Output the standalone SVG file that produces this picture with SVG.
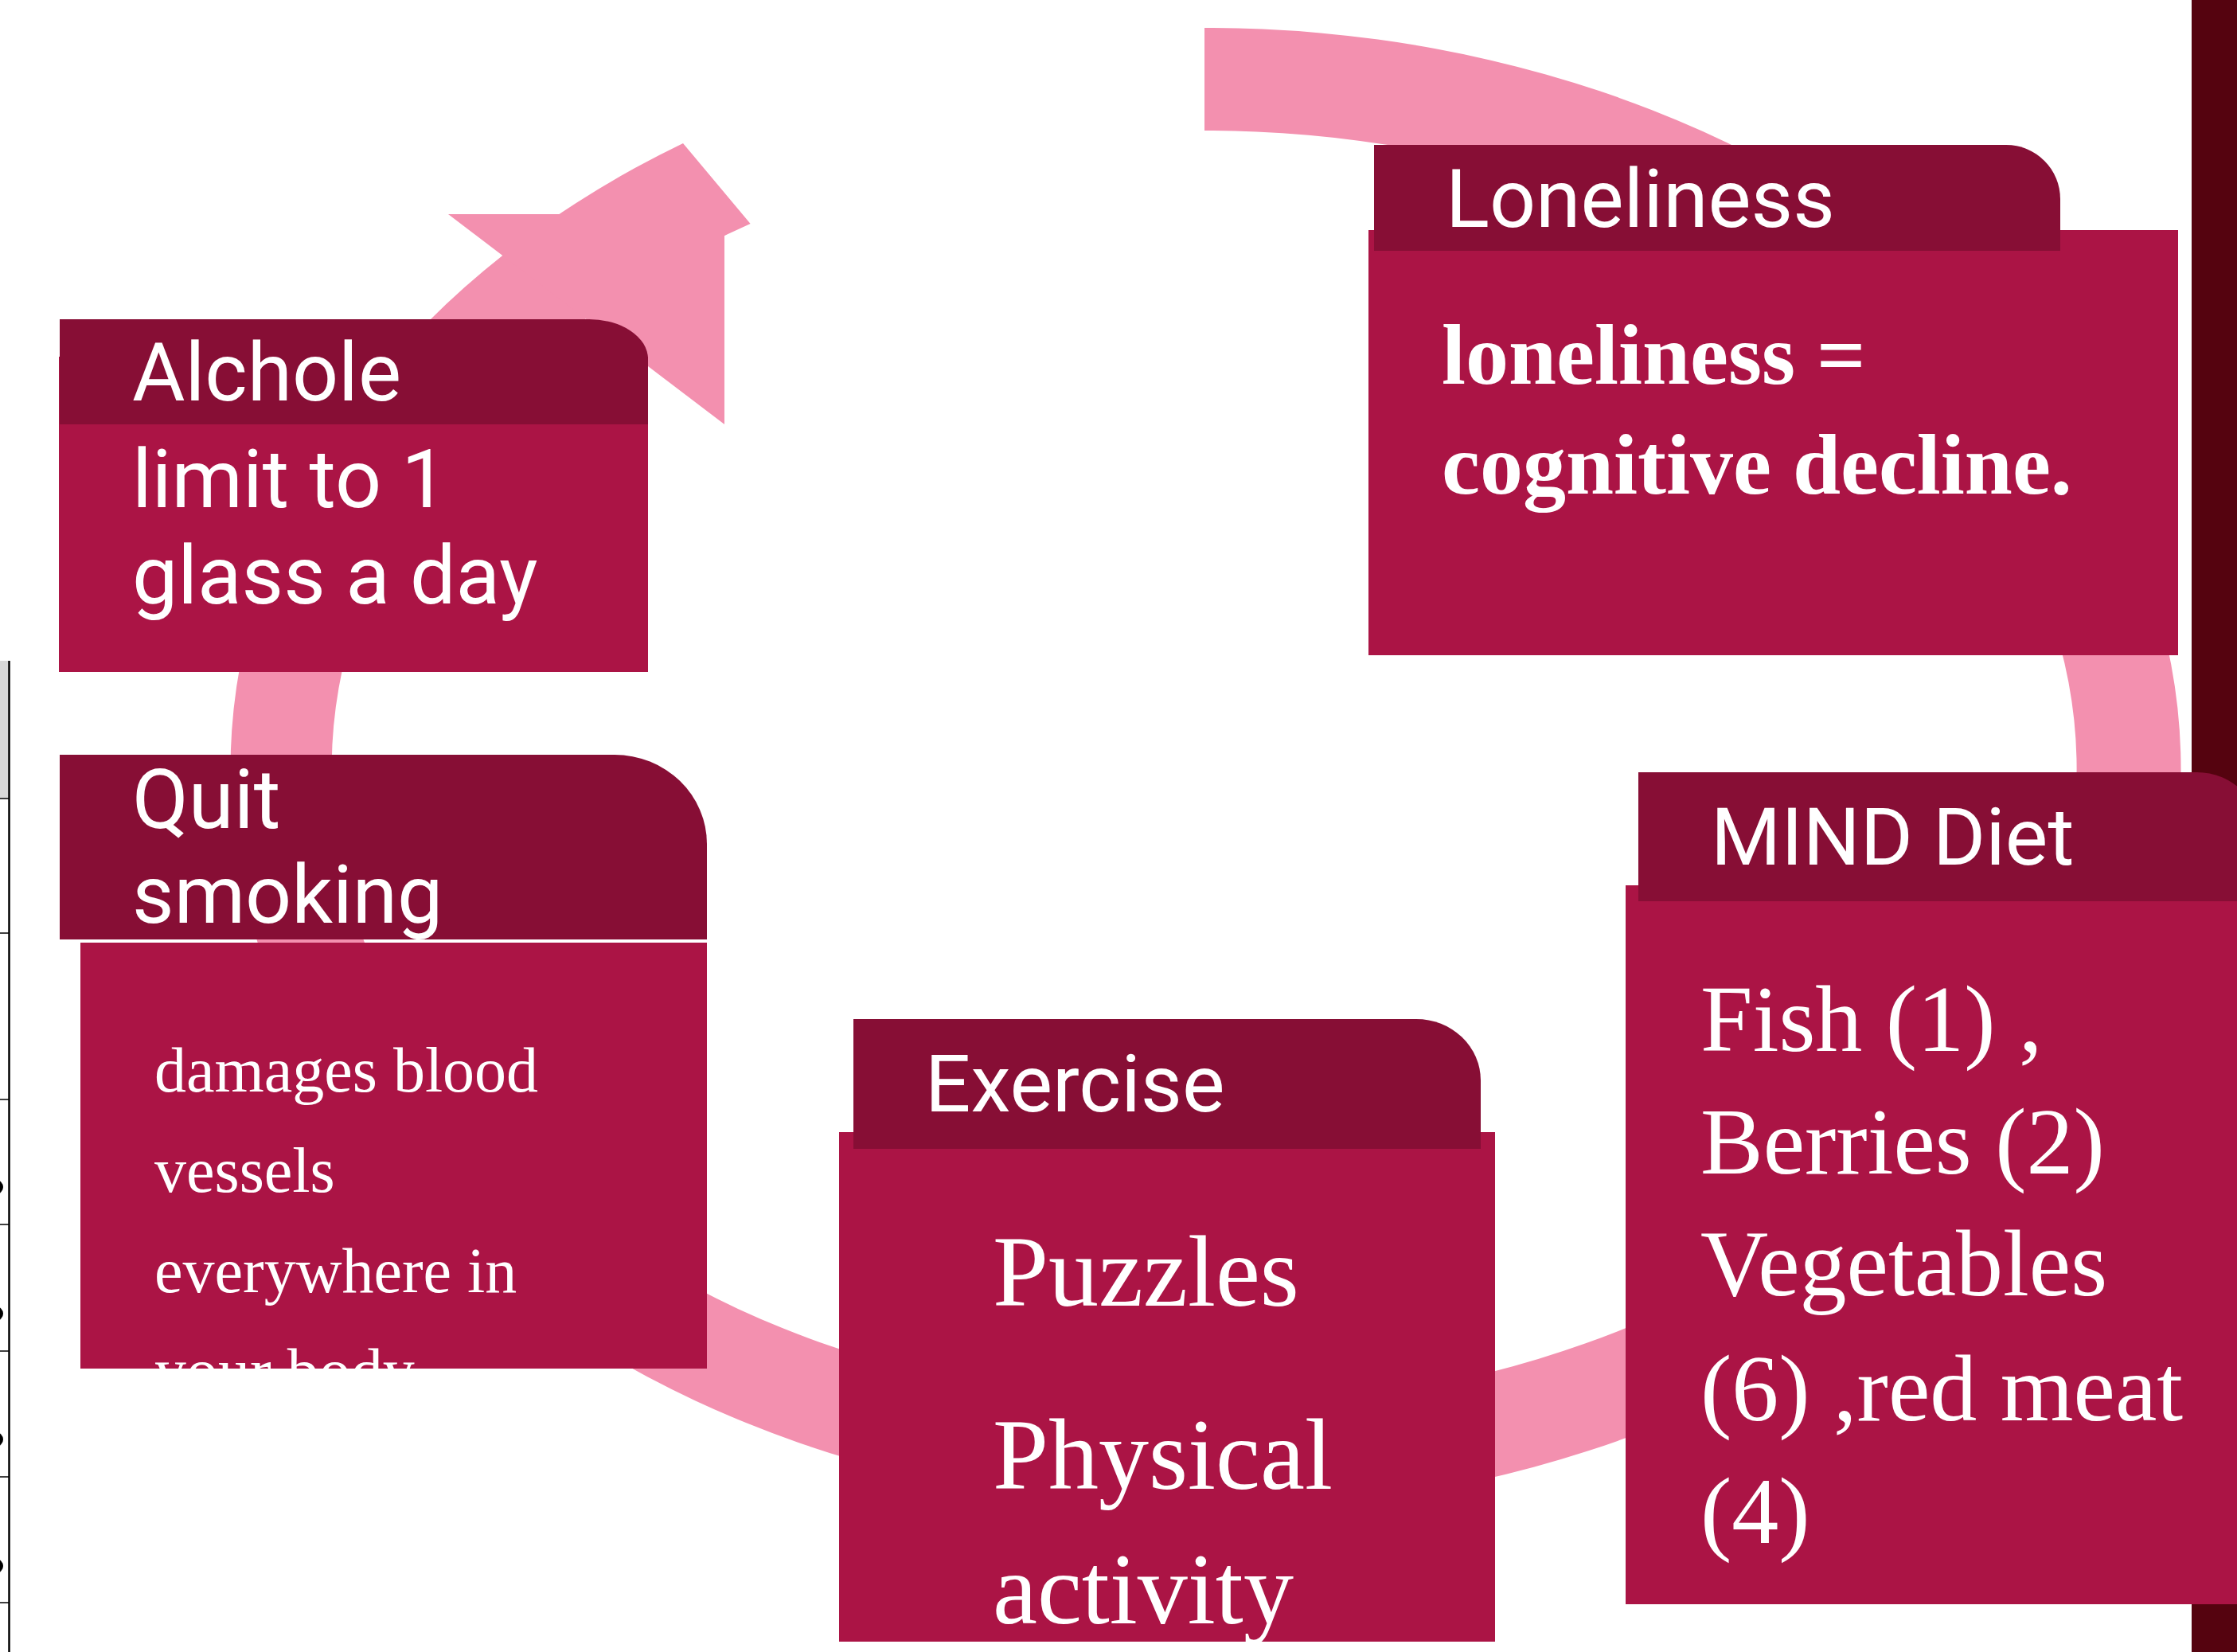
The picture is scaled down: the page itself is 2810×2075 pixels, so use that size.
<svg xmlns="http://www.w3.org/2000/svg" width="2810" height="2075" viewBox="0 0 2810 2075">
<style>
.hdr{fill:#870E35}
.body{fill:#AB1445}
.ring{fill:#F390AF}
.sans{font-family:Roboto,"Liberation Sans",sans-serif;fill:#FFFFFF}
.serif{font-family:"Liberation Serif","DejaVu Serif",serif;fill:#FFFFFF}
.tbl{stroke:#000000;fill:none}
</style>
<defs>
<clipPath id="clipQuit"><rect x="101" y="1184" width="787" height="535"/></clipPath>
<clipPath id="clipEx"><rect x="1054" y="1422" width="824" height="640"/></clipPath>
</defs>
<rect x="0" y="0" width="2810" height="2075" fill="#FFFFFF"/>

<g id="cycle-arrow">
<path class="ring" d="M1513,35 A1225,931 0 1,1 858,180 L942.6,281 A1096,802 0 1,0 1513,164 Z"/>
<polygon class="ring" points="563,269 910,269 910,533"/>
</g>

<g id="table-edge">
<rect x="0" y="830" width="11" height="173" fill="#D9D9D9"/>
<line class="tbl" x1="11.5" y1="830" x2="11.5" y2="2075" stroke-width="2.5"/>
<g stroke-width="1.5">
<line class="tbl" x1="0" y1="1003" x2="11" y2="1003"/>
<line class="tbl" x1="0" y1="1172" x2="11" y2="1172"/>
<line class="tbl" x1="0" y1="1381" x2="11" y2="1381"/>
<line class="tbl" x1="0" y1="1538" x2="11" y2="1538"/>
<line class="tbl" x1="0" y1="1697" x2="11" y2="1697"/>
<line class="tbl" x1="0" y1="1855" x2="11" y2="1855"/>
<line class="tbl" x1="0" y1="2013" x2="11" y2="2013"/>
</g>
<circle cx="-5" cy="1491" r="9" fill="#000"/>
<circle cx="-5" cy="1650" r="9" fill="#000"/>
<circle cx="-5" cy="1808" r="9" fill="#000"/>
<circle cx="-5" cy="1967" r="9" fill="#000"/>
</g>

<rect id="side-bar" x="2753" y="0" width="57" height="2075" fill="#55030F"/>

<g id="node-alchole">
<rect class="body" x="74" y="448" width="740" height="396"/>
<path class="hdr" d="M75,401 H740 A74,50 0 0 1 814,451 V533 H75 Z"/>
<text class="sans" x="166" y="503" font-size="102">Alchole</text>
<text class="sans" x="166" y="637" font-size="102">limit to 1</text>
<text class="sans" x="166" y="758" font-size="102">glass a day</text>
</g>

<g id="node-loneliness">
<rect class="body" x="1719" y="289" width="1017" height="534"/>
<path class="hdr" d="M1726,182 H2520 A68,68 0 0 1 2588,250 V315 H1726 Z"/>
<text class="sans" x="1816" y="285" font-size="102">Loneliness</text>
<text class="serif" x="1811" y="482" font-size="108" font-weight="bold">loneliness =</text>
<text class="serif" x="1811" y="620" font-size="108" font-weight="bold">cognitive decline.</text>
</g>

<g id="node-quit">
<rect class="body" x="101" y="1184" width="787" height="535"/>
<path class="hdr" d="M75,948 H772 A116,112 0 0 1 888,1060 V1180 H75 Z"/>
<text class="sans" x="166" y="1040" font-size="103">Quit</text>
<text class="sans" x="166" y="1159" font-size="102">smoking</text>
<g clip-path="url(#clipQuit)">
<text class="serif" x="194" y="1371" font-size="80">damages blood</text>
<text class="serif" x="194" y="1497" font-size="80">vessels</text>
<text class="serif" x="194" y="1623" font-size="80">everywhere in</text>
<text class="serif" x="194" y="1749" font-size="80">your body</text>
</g>
</g>

<g id="node-exercise">
<rect class="body" x="1054" y="1422" width="824" height="640"/>
<path class="hdr" d="M1072,1280 H1779 A81,77 0 0 1 1860,1357 V1443 H1072 Z"/>
<text class="sans" x="1162" y="1396" font-size="101">Exercise</text>
<g clip-path="url(#clipEx)">
<text class="serif" x="1247" y="1640" font-size="126">Puzzles</text>
<text class="serif" x="1247" y="1870" font-size="126">Physical</text>
<text class="serif" x="1247" y="2039" font-size="126">activity</text>
</g>
</g>

<g id="node-mind">
<rect class="body" x="2042" y="1112" width="800" height="903"/>
<path class="hdr" d="M2058,970 H2760 A80,80 0 0 1 2840,1050 V1132 H2058 Z"/>
<text class="sans" x="2149" y="1086" font-size="101">MIND Diet</text>
<text class="serif" x="2136" y="1320" font-size="118">Fish (1) ,</text>
<text class="serif" x="2136" y="1474" font-size="118">Berries (2)</text>
<text class="serif" x="2136" y="1627" font-size="118">Vegetables</text>
<text class="serif" x="2136" y="1784" font-size="118">(6) ,red meat</text>
<text class="serif" x="2136" y="1938" font-size="118">(4)</text>
</g>
</svg>
